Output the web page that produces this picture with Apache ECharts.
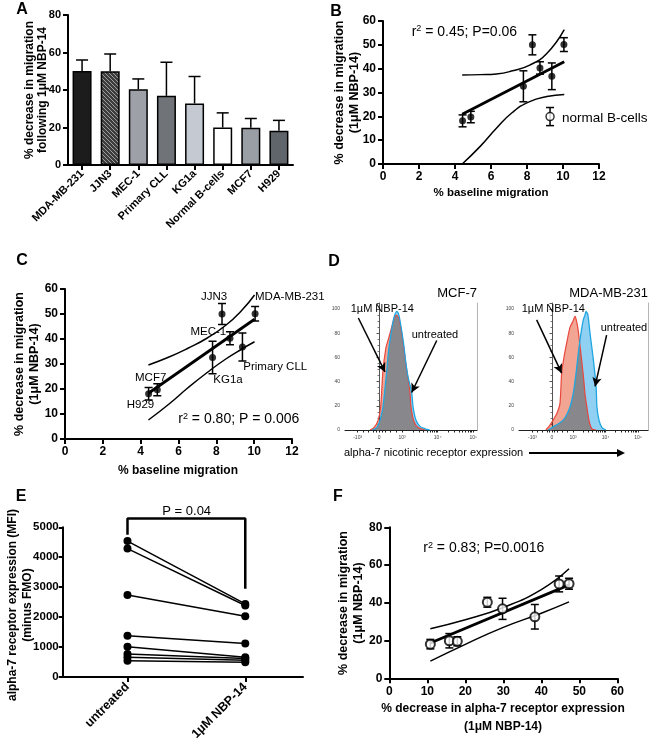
<!DOCTYPE html>
<html><head><meta charset="utf-8">
<script src="https://cdn.jsdelivr.net/npm/echarts@6/dist/echarts.min.js"></script>
<style>html,body{margin:0;padding:0;background:#fff}#c{width:650px;height:743px}</style>
</head><body><div id="c"></div>
<script>
// ---------- Panel A ----------
const aCategories = ['MDA-MB-231','JJN3','MEC-1','Primary CLL','KG1a','Normal B-cells','MCF7','H929'];
const aMeans  = [50.2, 50, 40.4, 36.9, 32.8, 20, 19.9, 18.3];
const aErrors = [5.8, 9.2, 5.5, 17.9, 14.4, 7.8, 4.9, 5.5];
const aColors = ['#1c1c1c','HATCH','#9da0a6','#707479','#c5c9d2','#ffffff','#9a9ea5','#60656b'];

// ---------- Panels B / C ----------
const cellLines = ['MDA-MB-231','JJN3','MEC-1','Primary CLL','KG1a','MCF7','H929'];
const baselineMigration = [10.05, 8.3, 8.72, 9.38, 7.8, 4.88, 4.42];
const migrationDecrease = [50.1, 50, 40.3, 36.8, 32.6, 19.7, 18.1];
const migrationErr      = [2.9, 4.2, 2.6, 5.6, 6.5, 2.4, 2.5];
const normalBX = [9.28], normalBY = [19.9], normalBErr = [3.8];
const bFitX = [4.4, 10.07], bFitY = [20.9, 42.9];
const bBandX = [4.4, 5.4, 6.3, 7.2, 8.15, 9.1, 10.07];
const bUpperY = [37.3, 37.5, 37.8, 39.1, 41.5, 46.4, 56.4];
const bLowerY = [0, 7.4, 15, 21.7, 26.2, 28.3, 29.2];
const cFitX = [4.41, 10.02], cFitY = [18.3, 47.9];
const cBandX = [4.41, 5.5, 6.5, 7.5, 8.5, 9.35, 10.02];
const cUpperY = [29.6, 32.8, 36.3, 40.3, 45.5, 51.5, 57.6];
const cLowerY = [7.6, 14, 20.5, 26.5, 32, 36, 38.9];

// ---------- Panel D (histograms, x in display units of the biexponential axis) ----------
const dTickValues = [-0.93, 0, 1, 2.55, 4.1];
const dTickLabels = ['-10³', '0', '10³', '10⁴', '10⁵'];
const mcfUntreatedX = [-0.3,-0.1,0.04,0.17,0.33,0.43,0.57,0.65,0.77,0.85,0.96,1.09,1.17,1.26,1.42,1.48,1.61,1.78,2.0,2.2];
const mcfUntreatedY = [0,2,8,19,48,68,85,93,98,96,85,68,55,44,31,19,8,3,1,0];
const mcfTreatedX = [-0.39,-0.22,-0.04,0.07,0.17,0.3,0.39,0.55,0.67,0.76,0.87,0.96,1.09,1.17,1.26,1.35,1.39,1.52,1.7,2.0];
const mcfTreatedY = [0,2,8,19,49,68,74,85,93,95,92,83,66,54,43,30,19,7,2,0];
const mdaUntreatedX = [-0.19,0,0.19,0.38,0.57,0.71,0.86,1.01,1.14,1.25,1.38,1.49,1.57,1.62,1.71,1.81,1.97,2.1,2.14,2.24,2.38,2.57];
const mdaUntreatedY = [0,2,4,6,9,13,19,30,46,63,80,91,95,98,95,80,58,36,19,8,2,0];
const mdaTreatedX = [-0.29,-0.14,0.05,0.24,0.38,0.46,0.57,0.7,0.86,1.0,1.1,1.17,1.25,1.33,1.43,1.52,1.57,1.67,1.76,1.9,2.1];
const mdaTreatedY = [0,3,8,14,22,47,60,72,85,90,94,90,82,70,55,40,30,18,8,1,0];

// ---------- Panel E ----------
const eCategories = ['untreated', '1µM NBP-14'];
const eUntreated = [4540, 4290, 2740, 1380, 1010, 770, 660, 540];
const eNBP14     = [2440, 2390, 2030, 1120, 660, 620, 560, 490];
const eBracketX = [1, 1, 2, 2];
const eBracketY = [4750, 5290, 5290, 2950];

// ---------- Panel F ----------
const fExprDecrease = [10.8, 15.8, 17.9, 25.8, 29.8, 38.3, 44.7, 47.3];
const fMigrDecrease = [18.1, 19.9, 19.6, 40.3, 36.8, 32.6, 50, 50.1];
const fErr          = [2.5, 3.8, 2.4, 2.6, 5.6, 6.5, 4.2, 2.9];
const fFitX = [10.8, 47.3], fFitY = [18.7, 49.5];
const fBandX = [10.8, 20, 30, 40, 47.3];
const fUpperY = [26.3, 31, 37.5, 47, 58];
const fLowerY = [9.1, 18, 27, 34.5, 40.5];

// ================= build =================
const FONT = '"Liberation Sans", Arial, Helvetica, sans-serif';
const zip = (xs, ys) => xs.map((x, i) => [x, ys[i]]);

const hatch = document.createElement('canvas');
hatch.width = 4; hatch.height = 4;
(function(){ const g = hatch.getContext('2d'); g.fillStyle = '#3c3c3c'; g.fillRect(0,0,4,4);
  g.strokeStyle = '#a0a0a0'; g.lineWidth = 1; g.beginPath(); g.moveTo(0,0); g.lineTo(4,4); g.stroke(); })();

function axisCommon(fs) {
  return {
    axisLine: {show: true, onZero: false, lineStyle: {color: '#000', width: 2}},
    axisTick: {show: true, inside: false, length: 5, lineStyle: {color: '#000', width: 2}},
    axisLabel: {show: true, color: '#000', fontFamily: FONT, fontWeight: 'bold', fontSize: fs, margin: 7,
      formatter: v => String(v)},
    splitLine: {show: false}
  };
}
function valueAxis(gi, min, max, interval, fs) {
  return Object.assign({type: 'value', gridIndex: gi, min, max, interval}, axisCommon(fs));
}

function errRender(capHalf, topOnly) {
  return function (params, api) {
    const x = api.value(0), lo = api.value(1), hi = api.value(2);
    const a = api.coord([x, hi]), b = api.coord([x, lo]);
    const st = {stroke: '#000', lineWidth: 1.5};
    const ch = [
      {type: 'line', shape: {x1: a[0], y1: a[1], x2: b[0], y2: b[1]}, style: st},
      {type: 'line', shape: {x1: a[0] - capHalf, y1: a[1], x2: a[0] + capHalf, y2: a[1]}, style: st}
    ];
    if (!topOnly) ch.push({type: 'line', shape: {x1: b[0] - capHalf, y1: b[1], x2: b[0] + capHalf, y2: b[1]}, style: st});
    return {type: 'group', children: ch};
  };
}
function errSeries(xi, yi, xs, ys, es, capHalf, topOnly) {
  return {type: 'custom', xAxisIndex: xi, yAxisIndex: yi, z: 1, silent: true,
    renderItem: errRender(capHalf, topOnly), encode: {x: 0, y: [1, 2]},
    data: xs.map((x, i) => [x, topOnly ? ys[i] : ys[i] - es[i], ys[i] + es[i]])};
}
function curve(xi, yi, xs, ys, w, smooth) {
  return {type: 'line', xAxisIndex: xi, yAxisIndex: yi, data: zip(xs, ys), symbol: 'none', smooth: smooth,
    lineStyle: {color: '#000', width: w}, z: 2, silent: true};
}

function logMinor(a, b) { const r = []; for (let k = 2; k < 10; k++) r.push(a + (b - a) * Math.log10(k)); return r; }
const dAllTicks = dTickValues.concat(logMinor(1, 2.55), logMinor(2.55, 4.1), [-0.7, -0.47, -0.23, -0.12, 0.12, 0.25, 0.5, 0.75]);

function dXAxis(gi, min, max) {
  return {type: 'value', gridIndex: gi, min, max,
    axisLine: {show: true, onZero: false, lineStyle: {color: '#222', width: 1.2}},
    axisTick: {show: true, length: 2.5, customValues: dAllTicks, lineStyle: {color: '#222', width: 1}},
    axisLabel: {show: true, customValues: dTickValues, fontSize: 5, color: '#444', margin: 5, fontFamily: FONT,
      formatter: v => { const i = dTickValues.findIndex(t => Math.abs(t - v) < 1e-6); return i >= 0 ? dTickLabels[i] : ''; }},
    splitLine: {show: false}};
}
function dYAxis(gi) {
  return {type: 'value', gridIndex: gi, min: 0, max: 105, interval: 20,
    axisLine: {show: true, lineStyle: {color: '#555', width: 1}},
    axisTick: {show: true, length: 2.5, lineStyle: {color: '#555', width: 1}},
    minorTick: {show: true, splitNumber: 4, length: 1.5, lineStyle: {color: '#777'}},
    axisLabel: {show: true, fontSize: 5, color: '#444', margin: 5, fontFamily: FONT,
      showMaxLabel: false, formatter: v => (v <= 100 ? String(v) : '')},
    splitLine: {show: false}};
}
function dBorderAxis(gi) {
  return {type: 'value', gridIndex: gi, min: 0, max: 105, position: 'right',
    axisLine: {show: true, lineStyle: {color: '#b5b5b5', width: 1}},
    axisTick: {show: false}, axisLabel: {show: false}, splitLine: {show: false}};
}
const RED_FILL = '#f2a592', BLUE_FILL = '#8fd0f3', RED_LINE = '#e8473d', BLUE_LINE = '#1fa6e0';
function histSeries(xi, yi, ux, uy, tx, ty, arrows) {
  const base = {type: 'line', xAxisIndex: xi, yAxisIndex: yi, symbol: 'none', smooth: 0.25, silent: true};
  return [
    Object.assign({}, base, {data: zip(ux, uy), lineStyle: {width: 0, opacity: 0}, areaStyle: {color: BLUE_FILL, opacity: 1}, z: 1}),
    Object.assign({}, base, {data: zip(tx, ty), lineStyle: {width: 0, opacity: 0}, areaStyle: {color: RED_FILL, opacity: 1}, blendMode: 'multiply', z: 2}),
    Object.assign({}, base, {data: zip(tx, ty), lineStyle: {color: RED_LINE, width: 1.2}, z: 3}),
    Object.assign({}, base, {data: zip(ux, uy), lineStyle: {color: BLUE_LINE, width: 1.3}, z: 4,
      markLine: {silent: true, symbol: ['none', 'arrow'], symbolSize: [7, 9], animation: false,
        lineStyle: {color: '#000', width: 1.5, type: 'solid'}, label: {show: false},
        data: arrows.map(a => [{coord: a[0]}, {coord: a[1]}])}})
  ];
}

const grids = [
  {left: 68, top: 15, width: 225, height: 150},      // A
  {left: 383, top: 21, width: 216, height: 143},     // B
  {left: 65, top: 289, width: 227, height: 150},     // C
  {left: 345, top: 303, width: 132, height: 127},    // D1
  {left: 519, top: 303, width: 129, height: 127},    // D2
  {left: 62.7, top: 527.3, width: 240.3, height: 154.7}, // E
  {left: 389.3, top: 527.3, width: 228, height: 151} // F
];

const eXAxis = Object.assign({type: 'value', gridIndex: 5, min: 0.45, max: 2.49}, axisCommon(12));
eXAxis.axisTick = {show: true, customValues: [1, 2], length: 5, lineStyle: {color: '#000', width: 2}};
eXAxis.axisLabel = {customValues: [1, 2], rotate: 45, color: '#000', fontFamily: FONT, fontWeight: 'bold', fontSize: 12.5, margin: 8,
  formatter: v => eCategories[Math.round(v) - 1] || ''};

const eYAxis = valueAxis(5, 0, 5000, 1000, 11.5);
eYAxis.axisLabel.margin = 4;
eYAxis.axisTick.length = 4;

const xAxes = [
  Object.assign({type: 'category', gridIndex: 0, data: aCategories, boundaryGap: true}, axisCommon(11),
    {axisTick: {show: true, alignWithLabel: true, length: 5, lineStyle: {color: '#000', width: 2}},
     axisLabel: {rotate: 45, interval: 0, color: '#000', fontFamily: FONT, fontWeight: 'bold', fontSize: 11, margin: 7}}),
  valueAxis(1, 0, 12, 2, 12),
  valueAxis(2, 0, 12, 2, 12),
  dXAxis(3, -1.48, 4.26),
  dXAxis(4, -1.57, 4.57),
  eXAxis,
  valueAxis(6, 0, 60, 10, 12)
];

const yAxes = [
  valueAxis(0, 0, 80, 20, 11),
  valueAxis(1, 0, 60, 10, 12),
  valueAxis(2, 0, 60, 10, 12),
  dYAxis(3),
  dYAxis(4),
  eYAxis,
  valueAxis(6, 0, 80, 20, 12),
  dBorderAxis(3),
  dBorderAxis(4)
];

const series = [];
// A
series.push(errSeries(0, 0, aCategories.map((c, i) => i), aMeans, aErrors, 6, true));
series.push({type: 'bar', xAxisIndex: 0, yAxisIndex: 0, barWidth: 19, z: 2, silent: true,
  data: aMeans.map((v, i) => ({value: v, itemStyle: {
    color: aColors[i] === 'HATCH' ? {image: hatch, repeat: 'repeat'} : aColors[i],
    borderColor: '#000', borderWidth: 1.5}}))});
// B
series.push(curve(1, 1, bBandX, bUpperY, 1.5, true));
series.push(curve(1, 1, bBandX, bLowerY, 1.5, true));
series.push(curve(1, 1, bFitX, bFitY, 2.8, false));
series.push(errSeries(1, 1, baselineMigration.concat(normalBX), migrationDecrease.concat(normalBY), migrationErr.concat(normalBErr), 4, false));
series.push({type: 'scatter', xAxisIndex: 1, yAxisIndex: 1, data: zip(baselineMigration, migrationDecrease), symbolSize: 7, itemStyle: {color: '#000'}, z: 5, silent: true});
series.push({type: 'scatter', xAxisIndex: 1, yAxisIndex: 1, data: zip(normalBX, normalBY), symbolSize: 8, itemStyle: {color: '#fff', borderColor: '#000', borderWidth: 1.5}, z: 5, silent: true});
// C
series.push(curve(2, 2, cBandX, cUpperY, 1.5, true));
series.push(curve(2, 2, cBandX, cLowerY, 1.5, true));
series.push(curve(2, 2, cFitX, cFitY, 2.8, false));
series.push(errSeries(2, 2, baselineMigration, migrationDecrease, migrationErr, 4, false));
series.push({type: 'scatter', xAxisIndex: 2, yAxisIndex: 2, data: zip(baselineMigration, migrationDecrease), symbolSize: 7, itemStyle: {color: '#000'}, z: 5, silent: true});
// D
histSeries(3, 3, mcfUntreatedX, mcfUntreatedY, mcfTreatedX, mcfTreatedY,
  [[[-0.9, 92.6], [0.26, 48]], [[2.51, 74], [1.42, 31]]]).forEach(s => series.push(s));
histSeries(4, 4, mdaUntreatedX, mdaUntreatedY, mdaTreatedX, mdaTreatedY,
  [[[-0.73, 91], [0.46, 47]], [[2.6, 78.5], [2.05, 36]]]).forEach(s => series.push(s));
// E
eUntreated.forEach((v, i) => series.push({type: 'line', xAxisIndex: 5, yAxisIndex: 5,
  data: [[1, v], [2, eNBP14[i]]], symbol: 'circle', symbolSize: 8, itemStyle: {color: '#000'},
  lineStyle: {color: '#000', width: 1.5}, z: 3, silent: true}));
series.push({type: 'line', xAxisIndex: 5, yAxisIndex: 5, data: zip(eBracketX, eBracketY), symbol: 'none', clip: false,
  lineStyle: {color: '#000', width: 2.5}, silent: true});
// F
series.push(curve(6, 6, fBandX, fUpperY, 1.5, true));
series.push(curve(6, 6, fBandX, fLowerY, 1.5, true));
series.push(curve(6, 6, fFitX, fFitY, 2.8, false));
series.push(errSeries(6, 6, fExprDecrease, fMigrDecrease, fErr, 4, false));
series.push({type: 'scatter', xAxisIndex: 6, yAxisIndex: 6, data: zip(fExprDecrease, fMigrDecrease), symbolSize: 9,
  itemStyle: {color: '#fff', borderColor: '#000', borderWidth: 2}, z: 5, silent: true});

function txt(x, y, text, size, o) {
  o = o || {};
  const st = {text: text, fontFamily: FONT, fontSize: size, fontWeight: o.bold ? 'bold' : 'normal', fill: '#000',
    align: o.align || 'center', textAlign: o.align || 'center', verticalAlign: 'middle', textVerticalAlign: 'middle'};
  if (o.lh) st.lineHeight = o.lh;
  if (o.rich) st.rich = o.rich;
  return {type: 'text', x: x, y: y, rotation: o.rot || 0, z: 100, silent: true, style: st};
}
const R90 = Math.PI / 2;
const supRich = {n: {fontSize: 14, fontFamily: FONT}, s: {fontSize: 9, fontFamily: FONT, verticalAlign: 'top', padding: [0, 0, 6, 0]}};
const graphic = [
  txt(22, 10, 'A', 16, {bold: true}), txt(336, 12, 'B', 16, {bold: true}), txt(22, 261, 'C', 16, {bold: true}),
  txt(334, 262, 'D', 16, {bold: true}), txt(21, 497, 'E', 16, {bold: true}), txt(338, 497, 'F', 16, {bold: true}),
  // axis titles
  txt(36.5, 90, '% decrease in migration\nfollowing 1μM NBP-14', 12, {bold: true, rot: R90, lh: 13}),
  txt(347.5, 92.5, '% decrease in migration\n(1μM NBP-14)', 12.5, {bold: true, rot: R90, lh: 15}),
  txt(491, 193, '% baseline migration', 11.5, {bold: true}),
  txt(27.5, 364, '% decrease in migration\n(1μM NBP-14)', 12.5, {bold: true, rot: R90, lh: 15}),
  txt(178, 471, '% baseline migration', 12, {bold: true}),
  txt(20.5, 605, 'alpha-7 receptor expression (MFI)\n(minus FMO)', 12, {bold: true, rot: R90, lh: 15}),
  txt(350.8, 603, '% decrease in migration\n(1μM NBP-14)', 12.5, {bold: true, rot: R90, lh: 15}),
  txt(503, 718, '% decrease in alpha-7 receptor expression\n(1μM NBP-14)', 12, {bold: true, lh: 18}),
  // annotations
  txt(411.7, 31.7, '{n|r}{s|2}{n| = 0.45; P=0.06}', 14, {align: 'left', rich: supRich}),
  txt(562, 118, 'normal B-cells', 13.5, {align: 'left'}),
  txt(178.3, 419.3, '{n|r}{s|2}{n| = 0.80; P = 0.006}', 14, {align: 'left', rich: supRich}),
  txt(214, 296.7, 'JJN3', 11.5), txt(255, 296.7, 'MDA-MB-231', 11.5, {align: 'left'}),
  txt(208.3, 332.3, 'MEC-1', 11.5), txt(243.3, 366.7, 'Primary CLL', 11.5, {align: 'left'}),
  txt(213.3, 380, 'KG1a', 11.5, {align: 'left'}), txt(135, 378.3, 'MCF7', 11.5, {align: 'left'}),
  txt(126.7, 405, 'H929', 11.5, {align: 'left'}),
  txt(477, 293, 'MCF-7', 13, {align: 'right'}), txt(648, 293, 'MDA-MB-231', 13, {align: 'right'}),
  txt(350.7, 309, '1µM NBP-14', 11, {align: 'left'}), txt(521.7, 309, '1µM NBP-14', 11, {align: 'left'}),
  txt(411.7, 335, 'untreated', 11, {align: 'left'}), txt(600.7, 328.3, 'untreated', 11, {align: 'left'}),
  txt(344, 453, 'alpha-7 nicotinic receptor expression', 11, {align: 'left'}),
  {type: 'line', shape: {x1: 529, y1: 453, x2: 619, y2: 453}, style: {stroke: '#000', lineWidth: 2}, silent: true},
  {type: 'polygon', shape: {points: [[617, 449], [625, 453], [617, 457]]}, style: {fill: '#000'}, silent: true},
  txt(186.7, 511.7, 'P = 0.04', 13),
  txt(423.3, 548.3, '{n|r}{s|2}{n| = 0.83; P=0.0016}', 14, {align: 'left', rich: supRich})
];

const chart = echarts.init(document.getElementById('c'), null, {renderer: 'canvas', width: 650, height: 743});
chart.setOption({
  animation: false,
  backgroundColor: '#fff',
  textStyle: {fontFamily: FONT},
  grid: grids,
  xAxis: xAxes,
  yAxis: yAxes,
  series: series,
  graphic: graphic
});
</script>
</body></html>
